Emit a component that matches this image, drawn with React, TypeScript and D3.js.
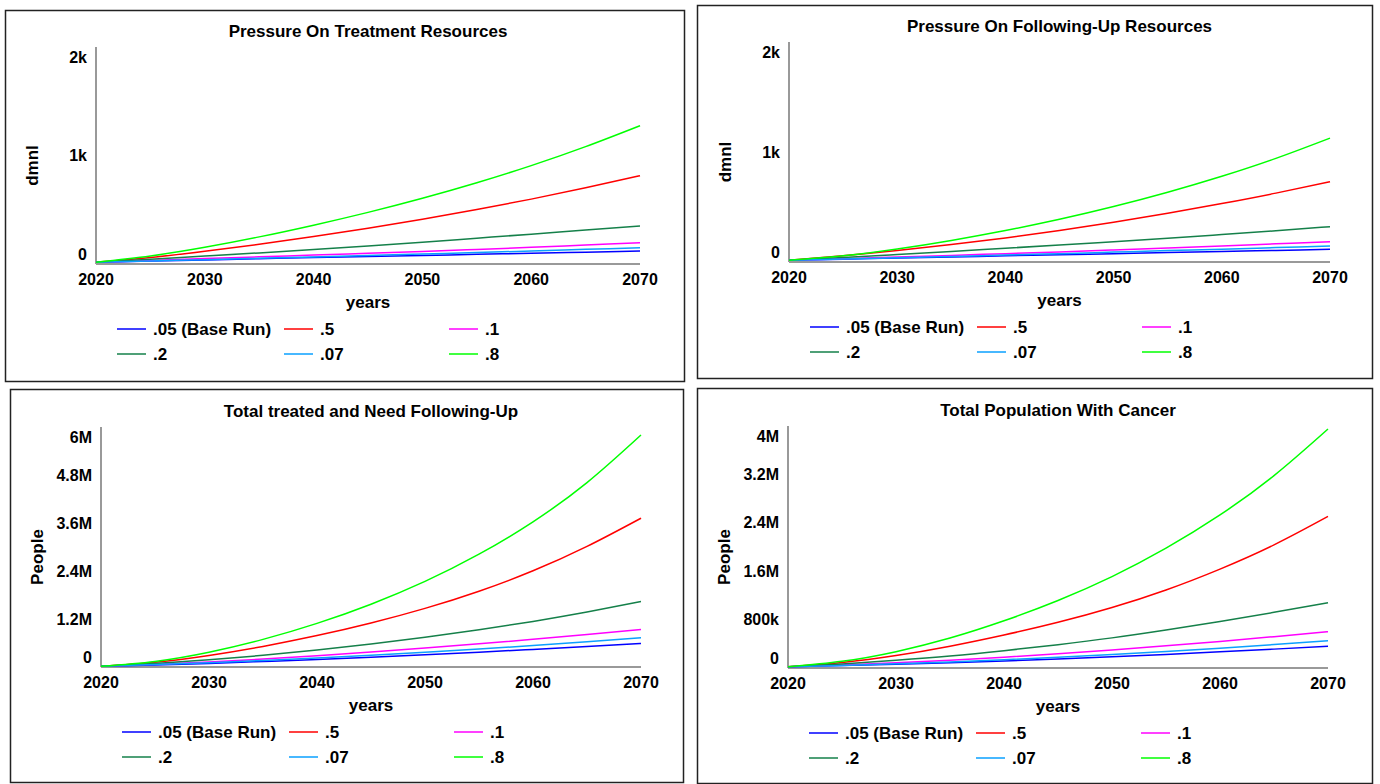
import React from "react";
import * as d3 from "d3";

// Simulation years (5-year sample points)
const YEARS = [2020, 2025, 2030, 2035, 2040, 2045, 2050, 2055, 2060, 2065, 2070];
const X_TICKS = [2020, 2030, 2040, 2050, 2060, 2070];

// Scenario runs, in legend order
const RUN_NAMES = [".05 (Base Run)", ".5", ".1", ".2", ".07", ".8"];
const RUN_COLORS = ["#0000ff", "#ff0000", "#ff00ff", "#15804a", "#0aa0ff", "#00ff00"];

// Pressure On Treatment Resources (dmnl)
const treatment_05 = [16, 27, 38, 49, 59, 69, 79, 89, 99, 109, 120];
const treatment_5 = [16, 60, 118, 182, 253, 330, 413, 502, 598, 702, 814];
const treatment_1 = [16, 33, 50, 66, 82, 98, 115, 134, 154, 175, 196];
const treatment_2 = [16, 44, 73, 102, 133, 166, 201, 238, 275, 313, 350];
const treatment_07 = [16, 28, 40, 52, 65, 78, 92, 106, 120, 135, 150];
const treatment_8 = [16, 74, 154, 250, 358, 476, 606, 749, 907, 1082, 1275];

// Pressure On Following-Up Resources (dmnl)
const followup_05 = [16, 26, 36, 46, 56, 66, 76, 86, 95, 105, 115];
const followup_5 = [16, 56, 104, 158, 219, 287, 362, 443, 531, 626, 730];
const followup_1 = [16, 30, 45, 60, 76, 92, 109, 127, 145, 165, 185];
const followup_2 = [16, 41, 68, 96, 125, 154, 184, 215, 249, 284, 321];
const followup_07 = [16, 27, 38, 50, 63, 76, 90, 104, 117, 131, 145];
const followup_8 = [16, 56, 118, 196, 286, 388, 504, 634, 779, 942, 1126];

// Total treated and Need Following-Up (People)
const treated_05 = [20e3, 50e3, 90e3, 138e3, 188e3, 245e3, 305e3, 370e3, 440e3, 512e3, 590e3];
const treated_5 = [20e3, 120e3, 290e3, 515e3, 785e3, 1.1e6, 1.465e6, 1.895e6, 2.405e6, 3.015e6, 3.72e6];
const treated_1 = [20e3, 70e3, 128e3, 198e3, 280e3, 372e3, 472e3, 580e3, 692e3, 812e3, 940e3];
const treated_2 = [20e3, 90e3, 180e3, 292e3, 424e3, 574e3, 742e3, 930e3, 1.14e6, 1.375e6, 1.635e6];
const treated_07 = [20e3, 60e3, 108e3, 165e3, 228e3, 296e3, 370e3, 450e3, 537e3, 630e3, 730e3];
const treated_8 = [20e3, 140e3, 370e3, 690e3, 1.09e6, 1.57e6, 2.14e6, 2.82e6, 3.63e6, 4.61e6, 5.8e6];

// Total Population With Cancer (People)
const cancer_05 = [20e3, 40e3, 62e3, 88e3, 117e3, 150e3, 186e3, 225e3, 267e3, 312e3, 360e3];
const cancer_5 = [20e3, 90e3, 205e3, 360e3, 545e3, 755e3, 1.0e6, 1.29e6, 1.635e6, 2.035e6, 2.505e6];
const cancer_1 = [20e3, 50e3, 88e3, 130e3, 178e3, 235e3, 298e3, 366e3, 440e3, 518e3, 600e3];
const cancer_2 = [20e3, 68e3, 128e3, 198e3, 286e3, 386e3, 498e3, 628e3, 768e3, 920e3, 1.08e6];
const cancer_07 = [20e3, 42e3, 70e3, 100e3, 137e3, 178e3, 224e3, 274e3, 328e3, 387e3, 450e3];
const cancer_8 = [20e3, 110e3, 270e3, 495e3, 780e3, 1.115e6, 1.51e6, 1.98e6, 2.53e6, 3.18e6, 3.95e6];

// Y-axis ticks
const DMNL_TICKS = [0, 1000, 2000];
const DMNL_TICK_LABELS = ["0", "1k", "2k"];
const TREATED_TICKS = [0, 1.2e6, 2.4e6, 3.6e6, 4.8e6, 6e6];
const TREATED_TICK_LABELS = ["0", "1.2M", "2.4M", "3.6M", "4.8M", "6M"];
const CANCER_TICKS = [0, 0.8e6, 1.6e6, 2.4e6, 3.2e6, 4e6];
const CANCER_TICK_LABELS = ["0", "800k", "1.6M", "2.4M", "3.2M", "4M"];

const FONT = "'Liberation Sans', Arial, Helvetica, sans-serif";

type Box = { x0: number; y0: number; x1: number; y1: number };
type Plot = { left: number; right: number; top: number; bottom: number };

type PanelProps = {
  box: Box;
  plot: Plot;
  title: string;
  yLabel: string;
  ticks: number[];
  tickLabels: string[];
  runs: number[][];
};

function Panel({ box, plot, title, yLabel, ticks, tickLabels, runs }: PanelProps) {
  const x = d3.scaleLinear().domain([2020, 2070]).range([plot.left, plot.right]);
  const yMax = ticks[ticks.length - 1];
  const y = d3.scaleLinear().domain([0, yMax]).range([plot.bottom, plot.top]);
  const line = d3
    .line<number>()
    .x((_, i) => x(YEARS[i]))
    .y((v) => y(v))
    .curve(d3.curveNatural);
  const midX = (plot.left + plot.right) / 2;
  const midY = (plot.top + plot.bottom) / 2;
  const legendCols = [21, 188, 353];
  const legendRows = [65, 90];

  return (
    <g>
      <rect
        x={box.x0 + 0.5}
        y={box.y0 + 0.5}
        width={box.x1 - box.x0}
        height={box.y1 - box.y0}
        fill="#fff"
        stroke="#222"
        strokeWidth={1.5}
      />
      <text
        x={midX}
        y={plot.top - 16}
        textAnchor="middle"
        dominantBaseline="central"
        fontSize={17}
        fontWeight="bold"
        fontFamily={FONT}
        fill="#000"
      >
        {title}
      </text>
      <text
        transform={`translate(${plot.left - 64},${midY + 10}) rotate(-90)`}
        textAnchor="middle"
        dominantBaseline="central"
        fontSize={17}
        fontWeight="bold"
        fontFamily={FONT}
        fill="#000"
      >
        {yLabel}
      </text>
      {ticks.map((t, i) => {
        let ty = y(t);
        if (i === ticks.length - 1) ty += 10;
        else if (i === 0) ty -= 10;
        return (
          <text
            key={"yt" + i}
            x={plot.left - 9}
            y={ty}
            textAnchor="end"
            dominantBaseline="central"
            fontSize={16}
            fontWeight="bold"
            fontFamily={FONT}
            fill="#000"
          >
            {tickLabels[i]}
          </text>
        );
      })}
      {X_TICKS.map((t) => (
        <text
          key={"xt" + t}
          x={x(t)}
          y={plot.bottom + 15}
          textAnchor="middle"
          dominantBaseline="central"
          fontSize={16}
          fontWeight="bold"
          fontFamily={FONT}
          fill="#000"
        >
          {t}
        </text>
      ))}
      <text
        x={midX}
        y={plot.bottom + 38}
        textAnchor="middle"
        dominantBaseline="central"
        fontSize={17}
        fontWeight="bold"
        fontFamily={FONT}
        fill="#000"
      >
        years
      </text>
      <line x1={plot.left} y1={plot.top} x2={plot.left} y2={plot.bottom} stroke="#999" strokeWidth={2} />
      <line x1={plot.left} y1={plot.bottom} x2={plot.right} y2={plot.bottom} stroke="#999" strokeWidth={2} />
      {runs.map((r, i) => (
        <path key={"run" + i} d={line(r) || ""} fill="none" stroke={RUN_COLORS[i]} strokeWidth={1.5} />
      ))}
      {RUN_NAMES.map((name, i) => {
        const lx = plot.left + legendCols[i % 3];
        const ly = plot.bottom + legendRows[Math.floor(i / 3)];
        return (
          <g key={"lg" + i}>
            <line x1={lx} y1={ly} x2={lx + 29} y2={ly} stroke={RUN_COLORS[i]} strokeWidth={1.5} />
            <text
              x={lx + 36}
              y={ly}
              dominantBaseline="central"
              fontSize={17}
              fontWeight="bold"
              fontFamily={FONT}
              fill="#000"
            >
              {name}
            </text>
          </g>
        );
      })}
    </g>
  );
}

export default function App() {
  return (
    <svg
      width={1380}
      height={784}
      style={{ position: "absolute", left: 0, top: 0, background: "#fff" }}
    >
      <rect x={0} y={0} width={1380} height={784} fill="#fff" />
      <Panel
        box={{ x0: 5, y0: 10, x1: 684, y1: 381 }}
        plot={{ left: 96, right: 640, top: 47, bottom: 264 }}
        title="Pressure On Treatment Resources"
        yLabel="dmnl"
        ticks={DMNL_TICKS}
        tickLabels={DMNL_TICK_LABELS}
        runs={[treatment_05, treatment_5, treatment_1, treatment_2, treatment_07, treatment_8]}
      />
      <Panel
        box={{ x0: 697, y0: 5, x1: 1372, y1: 378 }}
        plot={{ left: 789, right: 1330, top: 42, bottom: 262 }}
        title="Pressure On Following-Up Resources"
        yLabel="dmnl"
        ticks={DMNL_TICKS}
        tickLabels={DMNL_TICK_LABELS}
        runs={[followup_05, followup_5, followup_1, followup_2, followup_07, followup_8]}
      />
      <Panel
        box={{ x0: 10, y0: 389, x1: 683, y1: 782 }}
        plot={{ left: 101, right: 641, top: 427, bottom: 667 }}
        title="Total treated and Need Following-Up"
        yLabel="People"
        ticks={TREATED_TICKS}
        tickLabels={TREATED_TICK_LABELS}
        runs={[treated_05, treated_5, treated_1, treated_2, treated_07, treated_8]}
      />
      <Panel
        box={{ x0: 697, y0: 388, x1: 1372, y1: 783 }}
        plot={{ left: 788, right: 1328, top: 426, bottom: 668 }}
        title="Total Population With Cancer"
        yLabel="People"
        ticks={CANCER_TICKS}
        tickLabels={CANCER_TICK_LABELS}
        runs={[cancer_05, cancer_5, cancer_1, cancer_2, cancer_07, cancer_8]}
      />
    </svg>
  );
}
